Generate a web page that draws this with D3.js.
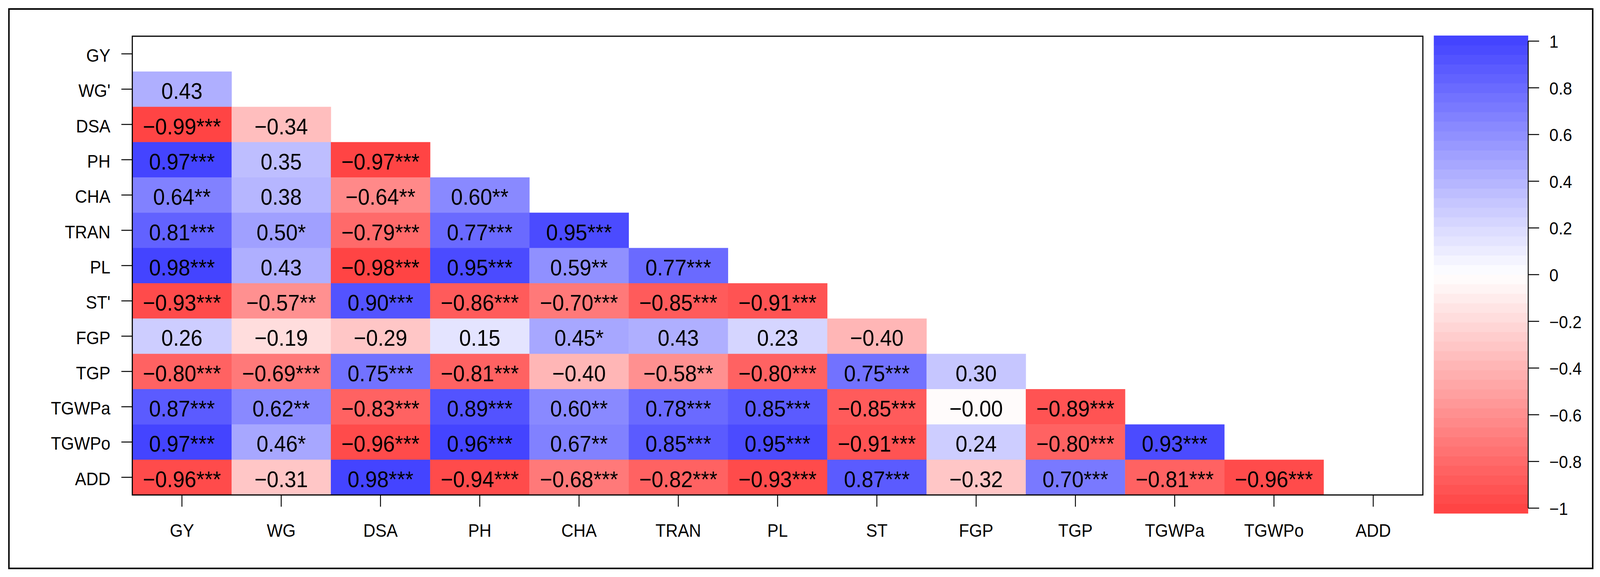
<!DOCTYPE html>
<html>
<head>
<meta charset="utf-8">
<script src="https://cdn.jsdelivr.net/npm/d3@7"></script>
<style>
  html, body { margin: 0; padding: 0; background: #ffffff; overflow: hidden; width: 100%; height: 100%; }
  svg { display: block; width: 100vw; height: 100vh; }
  text { font-family: "Liberation Sans", Arial, Helvetica, sans-serif; fill: #000; }
</style>
</head>
<body>
<svg id="chart" viewBox="0 0 4390 1477" preserveAspectRatio="none"></svg>
<script>
// ---------------- data ----------------
const categories = ["GY","WG","DSA","PH","CHA","TRAN","PL","ST","FGP","TGP","TGWPa","TGWPo","ADD"];
const rowTickLabels = ["GY","WG'","DSA","PH","CHA","TRAN","PL","ST'","FGP","TGP","TGWPa","TGWPo","ADD"];

// lower-triangle correlation coefficients, row i holds columns 0..i-1
const corrValues = [
  [],
  [0.43],
  [-0.99, -0.34],
  [0.97, 0.35, -0.97],
  [0.64, 0.38, -0.64, 0.60],
  [0.81, 0.50, -0.79, 0.77, 0.95],
  [0.98, 0.43, -0.98, 0.95, 0.59, 0.77],
  [-0.93, -0.57, 0.90, -0.86, -0.70, -0.85, -0.91],
  [0.26, -0.19, -0.29, 0.15, 0.45, 0.43, 0.23, -0.40],
  [-0.80, -0.69, 0.75, -0.81, -0.40, -0.58, -0.80, 0.75, 0.30],
  [0.87, 0.62, -0.83, 0.89, 0.60, 0.78, 0.85, -0.85, -0.004, -0.89],
  [0.97, 0.46, -0.96, 0.96, 0.67, 0.85, 0.95, -0.91, 0.24, -0.80, 0.93],
  [-0.96, -0.31, 0.98, -0.94, -0.68, -0.82, -0.93, 0.87, -0.32, 0.70, -0.81, -0.96]
];

// significance stars for the same cells
const sigStars = [
  [],
  [""],
  ["***", ""],
  ["***", "", "***"],
  ["**", "", "**", "**"],
  ["***", "*", "***", "***", "***"],
  ["***", "", "***", "***", "**", "***"],
  ["***", "**", "***", "***", "***", "***", "***"],
  ["", "", "", "", "*", "", "", ""],
  ["***", "***", "***", "***", "", "**", "***", "***", ""],
  ["***", "**", "***", "***", "**", "***", "***", "***", "", "***"],
  ["***", "*", "***", "***", "**", "***", "***", "***", "", "***", "***"],
  ["***", "", "***", "***", "***", "***", "***", "***", "", "***", "***", "***"]
];

const legendTicks = [1, 0.8, 0.6, 0.4, 0.2, 0, -0.2, -0.4, -0.6, -0.8, -1];
const legendTickLabels = ["1","0.8","0.6","0.4","0.2","0","\u22120.2","\u22120.4","\u22120.6","\u22120.8","\u22121"];
const colorStops = ["#FF4040", "#FFFFFF", "#4040FF"];
const nColors = 50;

// ---------------- layout ----------------
const svg = d3.select("#chart");
const plot = { left: 363, right: 3904, top: 92.7, bottom: 1267 };
const bar = { left: 3934, right: 4193, top: 91, bottom: 1314 };

const x = d3.scaleBand().domain(categories).range([plot.left, plot.right]).paddingInner(0).paddingOuter(0);
const y = d3.scaleBand().domain(categories).range([plot.top, plot.bottom]).paddingInner(0).paddingOuter(0);

const ramp = d3.scaleLinear().domain([-1, 0, 1]).range(colorStops).interpolate(d3.interpolateRgb);
const binColors = d3.range(nColors).map(i => ramp(((i + 0.5) / nColors) * 2 - 1));
const colorOf = v => {
  let idx = Math.floor((v + 1) / 2 * nColors);
  idx = Math.max(0, Math.min(nColors - 1, idx));
  return binColors[idx];
};
const fmt = v => (v < 0 ? "\u2212" : "") + Math.abs(v).toFixed(2);

// outer frame
svg.append("rect")
  .attr("x", 24.5).attr("y", 23).attr("width", 4370 - 24.5).attr("height", 1455 - 23)
  .attr("fill", "none").attr("stroke", "#000").attr("stroke-width", 4);

// cells
const cells = [];
corrValues.forEach((row, i) => row.forEach((v, j) => cells.push({ r: categories[i], c: categories[j], v, s: sigStars[i][j] })));

svg.append("g").selectAll("rect").data(cells).join("rect")
  .attr("x", d => x(d.c)).attr("y", d => y(d.r))
  .attr("width", x.bandwidth() + 0.5).attr("height", y.bandwidth() + 0.5)
  .attr("fill", d => colorOf(d.v));

svg.append("g").selectAll("text").data(cells).join("text")
  .attr("x", d => x(d.c) + x.bandwidth() / 2)
  .attr("y", d => y(d.r) + y.bandwidth() / 2 + 25)
  .attr("text-anchor", "middle")
  .attr("font-size", 58)
  .text(d => fmt(d.v) + d.s);

// plot frame
svg.append("rect")
  .attr("x", plot.left).attr("y", plot.top)
  .attr("width", plot.right - plot.left).attr("height", plot.bottom - plot.top)
  .attr("fill", "none").attr("stroke", "#000").attr("stroke-width", 3);

// y axis ticks + labels
const gy = svg.append("g");
gy.selectAll("line").data(categories).join("line")
  .attr("x1", plot.left - 30).attr("x2", plot.left)
  .attr("y1", d => y(d) + y.bandwidth() / 2).attr("y2", d => y(d) + y.bandwidth() / 2)
  .attr("stroke", "#000").attr("stroke-width", 2.5);
gy.selectAll("text").data(categories).join("text")
  .attr("x", plot.left - 60)
  .attr("y", d => y(d) + y.bandwidth() / 2 + 20)
  .attr("text-anchor", "end").attr("font-size", 46)
  .text((d, i) => rowTickLabels[i]);

// x axis ticks + labels
const gx = svg.append("g");
gx.selectAll("line").data(categories).join("line")
  .attr("x1", d => x(d) + x.bandwidth() / 2).attr("x2", d => x(d) + x.bandwidth() / 2)
  .attr("y1", plot.bottom).attr("y2", plot.bottom + 30)
  .attr("stroke", "#000").attr("stroke-width", 2.5);
gx.selectAll("text").data(categories).join("text")
  .attr("x", d => x(d) + x.bandwidth() / 2)
  .attr("y", 1374)
  .attr("text-anchor", "middle").attr("font-size", 46)
  .text(d => d);

// color legend
const binH = (bar.bottom - bar.top) / nColors;
const ly = d3.scaleLinear().domain([1, -1]).range([bar.top + binH / 2 + 2, bar.bottom - binH / 2 - 1]);
svg.append("g").selectAll("rect").data(d3.range(nColors)).join("rect")
  .attr("x", bar.left).attr("width", bar.right - bar.left)
  .attr("y", i => bar.top + (nColors - 1 - i) * binH)
  .attr("height", binH + 0.6)
  .attr("fill", i => binColors[i]);

const lg = svg.append("g");
lg.append("line")
  .attr("x1", bar.right).attr("x2", bar.right)
  .attr("y1", ly(1)).attr("y2", ly(-1))
  .attr("stroke", "#000").attr("stroke-width", 2.5);
lg.selectAll("line.tick").data(legendTicks).join("line")
  .attr("class", "tick")
  .attr("x1", bar.right).attr("x2", bar.right + 30)
  .attr("y1", d => ly(d)).attr("y2", d => ly(d))
  .attr("stroke", "#000").attr("stroke-width", 2.5);
lg.selectAll("text").data(legendTicks).join("text")
  .attr("x", 4251)
  .attr("y", d => ly(d) + 17)
  .attr("font-size", 45)
  .text((d, i) => legendTickLabels[i]);
</script>
</body>
</html>
